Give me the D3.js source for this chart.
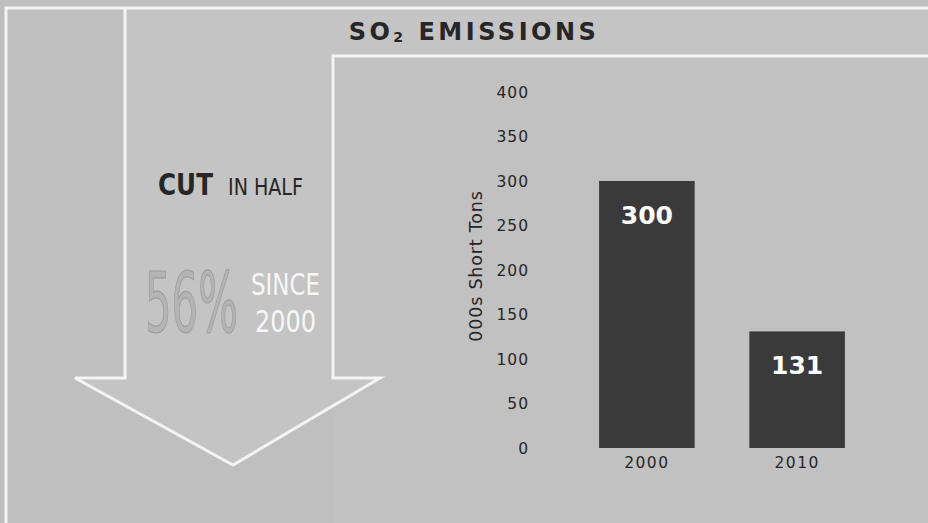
<!DOCTYPE html>
<html>
<head>
<meta charset="utf-8">
<script src="https://cdn.jsdelivr.net/npm/d3@7"></script>
<style>
  html, body { margin: 0; padding: 0; background: #bfbfbf; }
  svg { display: block; }
</style>
</head>
<body>
<svg id="chart" width="928" height="523"></svg>
<script>
// ---- data ----
const categories = ["2000", "2010"];
const values = [300, 131];
const yTicks = [0, 50, 100, 150, 200, 250, 300, 350, 400];
const title = "SO";
const titleSub = "2";
const titleRest = " EMISSIONS";
const yAxisTitle = "000s Short Tons";
const leftHeadBold = "CUT";
const leftHeadRest = "IN HALF";
const pctText = "56%";
const sinceText = ["SINCE", "2000"];

// ---- layout ----
const W = 928, H = 523;
const svg = d3.select("#chart");
const FONT = "'DejaVu Sans', 'Noto Sans', sans-serif";

// background
svg.append("rect").attr("width", W).attr("height", H).attr("fill", "#bfbfbf");

// panel
svg.append("rect").attr("x", 333).attr("y", 56).attr("width", W - 333).attr("height", H - 56)
  .attr("fill", "#c1c1c1");

// arrow + header region (slightly lighter)
const arrowPts = [[125, 8], [928, 8], [928, 56], [333, 56], [333, 378], [380, 378],
                  [233, 465], [75, 378], [125, 378]];
svg.append("polygon")
  .attr("points", arrowPts.map(p => p.join(",")).join(" "))
  .attr("fill", "#c4c4c4");

// white lines
const line = d3.line();
const wl = (pts) => svg.append("path").attr("d", line(pts)).attr("fill", "none")
  .attr("stroke", "#f4f4f4").attr("stroke-width", 3).attr("stroke-linejoin", "miter");
wl([[6, H], [6, 8], [W, 8]]);
wl([[125, 8], [125, 378], [75, 378], [233, 465], [380, 378], [333, 378], [333, 56], [W, 56]]);

// title
const t = svg.append("text").attr("x", 474).attr("y", 40).attr("text-anchor", "middle")
  .attr("font-family", FONT).attr("font-weight", "bold").attr("font-size", 24)
  .attr("letter-spacing", 3.5).attr("fill", "#262626");
t.append("tspan").text(title);
t.append("tspan").attr("font-size", 14).attr("dy", 2).text(titleSub);
t.append("tspan").attr("dy", -2).text(titleRest);

// condensed text helper: scale horizontally to a target width
function condensed(str, x0, y0, width, size, opts) {
  const el = svg.append("text").attr("x", 0).attr("y", 0)
    .attr("font-family", FONT).attr("font-size", size)
    .attr("font-weight", opts.weight || "normal").attr("fill", opts.fill)
    .text(str);
  if (opts.stroke) el.attr("stroke", opts.stroke).attr("stroke-width", opts.strokeWidth);
  const len = el.node().getComputedTextLength();
  el.attr("transform", `translate(${x0},${y0}) scale(${width / len},1)`);
  return el;
}

condensed(leftHeadBold, 158, 195, 55, 30, { weight: "bold", fill: "#262626" });
condensed(leftHeadRest, 228, 195, 75, 23, { fill: "#262626" });
condensed(pctText, 145, 332, 93, 84, { fill: "#b4b4b4", stroke: "#9c9c9c", strokeWidth: 1.2 });
condensed(sinceText[0], 251, 295, 69, 30, { fill: "#f7f7f7" });
condensed(sinceText[1], 255, 332, 61, 31, { fill: "#f7f7f7" });

// ---- chart ----
const y = d3.scaleLinear().domain([0, 400]).range([448, 92]);
const x = d3.scaleBand().domain(categories).range([554, 890]).paddingInner(0.364).paddingOuter(0.3);

const yAxis = svg.append("g").attr("transform", "translate(529,0)")
  .call(d3.axisLeft(y).tickValues(yTicks).tickSize(0).tickPadding(0));
yAxis.select(".domain").remove();
yAxis.selectAll("text").attr("font-family", FONT).attr("font-size", 15.5)
  .attr("letter-spacing", 1).attr("fill", "#262626").attr("dy", "0.35em");

svg.append("text").attr("transform", "translate(482,266) rotate(-90)")
  .attr("text-anchor", "middle").attr("font-family", FONT).attr("font-size", 17.5)
  .attr("letter-spacing", 0.8).attr("fill", "#262626").text(yAxisTitle);

svg.selectAll("rect.bar").data(values).join("rect").attr("class", "bar")
  .attr("x", (d, i) => x(categories[i])).attr("width", x.bandwidth())
  .attr("y", d => y(d)).attr("height", d => y(0) - y(d))
  .attr("fill", "#3a3a3a");

svg.selectAll("text.val").data(values).join("text").attr("class", "val")
  .attr("x", (d, i) => x(categories[i]) + x.bandwidth() / 2)
  .attr("y", d => y(d) + 43).attr("text-anchor", "middle")
  .attr("font-family", FONT).attr("font-weight", "bold").attr("font-size", 25)
  .attr("fill", "#ffffff").text(d => d);

const xAxis = svg.append("g").attr("transform", "translate(0,451)")
  .call(d3.axisBottom(x).tickSize(0).tickPadding(0));
xAxis.select(".domain").remove();
xAxis.selectAll("text").attr("font-family", FONT).attr("font-size", 15.5)
  .attr("letter-spacing", 1.5).attr("fill", "#262626").attr("dy", "1.1em");
</script>
</body>
</html>
